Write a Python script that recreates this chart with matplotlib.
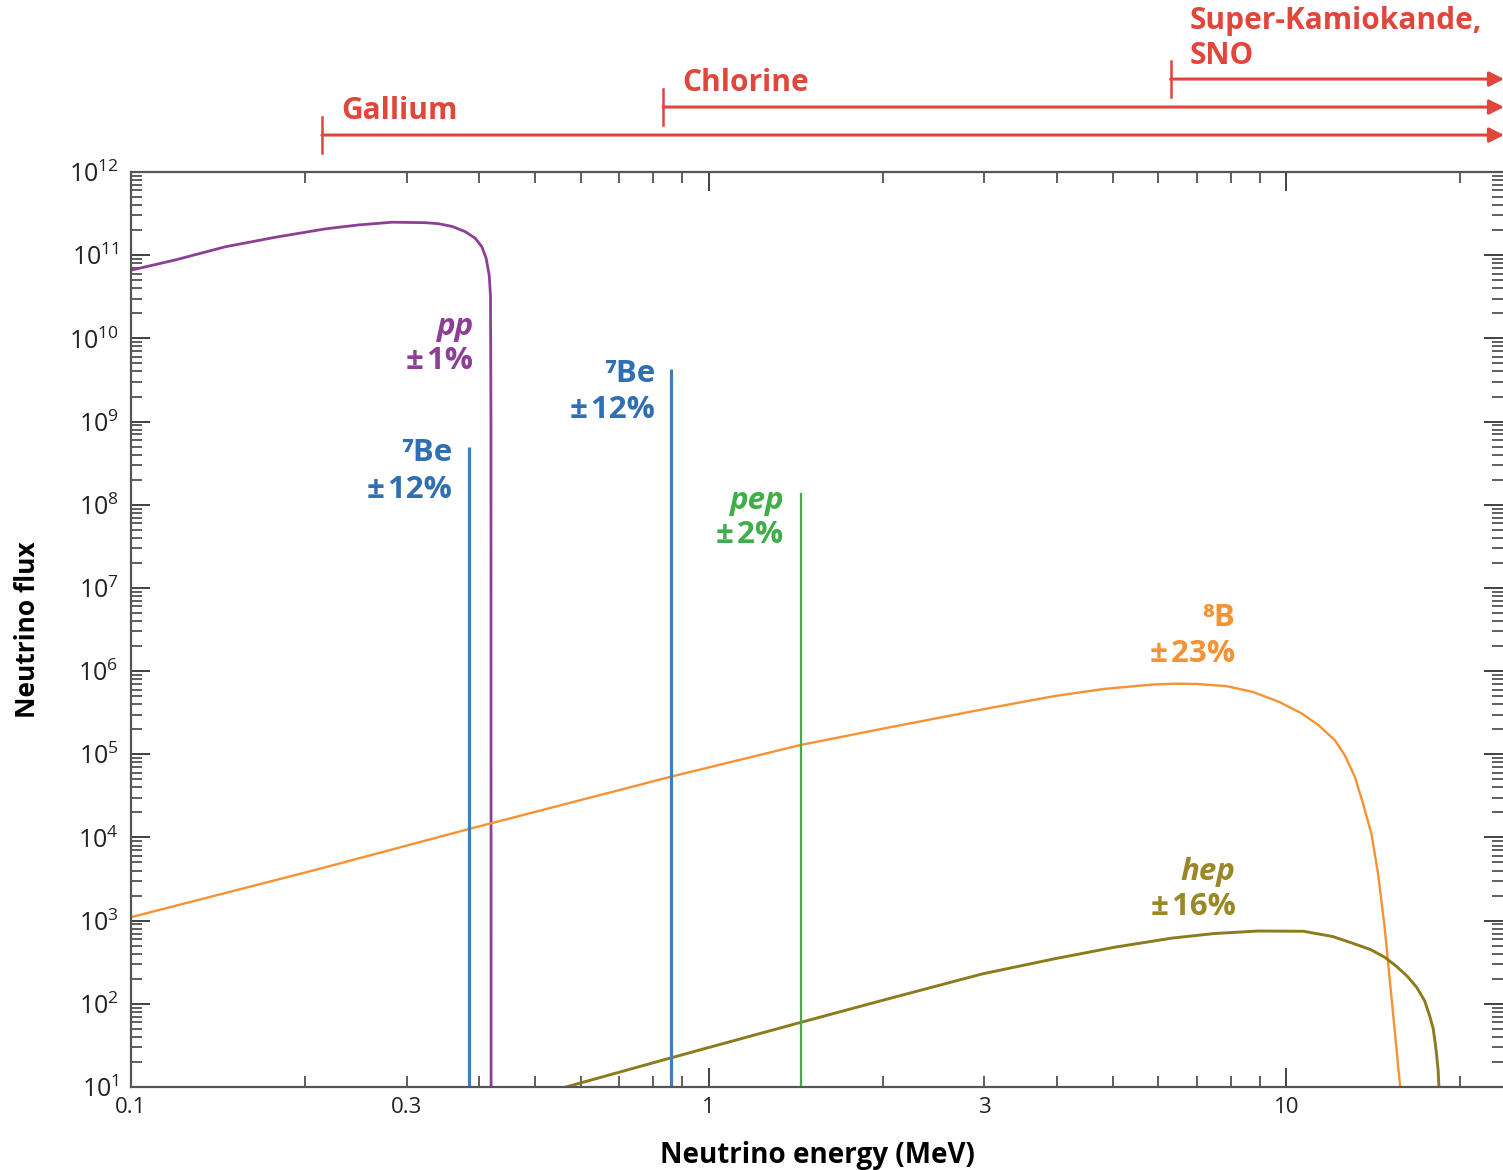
import numpy as np
import matplotlib
matplotlib.use("Agg")
import matplotlib.pyplot as plt
from matplotlib import ticker, transforms

plt.rcParams['font.family'] = ['Open Sans', 'DejaVu Sans']

# pp continuum (MeV, flux)
pp_e = [0.1, 0.1192, 0.1455, 0.1776, 0.2168, 0.2475, 0.2831, 0.3228, 0.3405, 0.3593,
        0.3788, 0.3942, 0.4049, 0.4118, 0.4168, 0.4190, 0.4198, 0.4200]
pp_f = [6.6e10, 8.75e10, 1.26e11, 1.64e11, 2.07e11, 2.31e11, 2.49e11, 2.46e11, 2.39e11, 2.22e11,
        1.92e11, 1.60e11, 1.26e11, 9.2e10, 5.8e10, 3.3e10, 1e9, 10]

# 8B continuum
b8_e = [0.1, 0.2093, 0.384, 0.42, 0.862, 1.44, 2.0, 2.657, 3.0, 3.96, 4.83, 5.88, 6.4, 6.98,
        7.86, 8.73, 9.70, 10.63, 11.36, 12.13, 12.62, 13.14, 13.57, 14.03, 14.41, 14.79,
        15.08, 15.38, 15.73]
b8_f = [1.1e3, 4.1e3, 1.26e4, 1.48e4, 5.4e4, 1.29e5, 2.03e5, 2.97e5, 3.5e5, 5.0e5, 6.1e5,
        6.9e5, 7.05e5, 7.0e5, 6.6e5, 5.64e5, 4.28e5, 3.09e5, 2.24e5, 1.47e5, 9.7e4, 5.3e4,
        2.54e4, 1.1e4, 3.6e3, 8.2e2, 206, 51, 10]

# hep continuum
hep_e = [0.566, 0.862, 1.44, 2.017, 2.976, 3.96, 5.04, 6.34, 7.5, 8.93, 10.7, 12.0,
         13.0, 14.0, 14.79, 15.5, 16.19, 16.8, 17.34, 17.7, 17.95, 18.15, 18.3, 18.36]
hep_f = [10, 22.5, 59.6, 112, 229, 347, 479, 617, 700, 750, 745, 646,
         537, 447, 363, 282, 214, 158, 109, 71, 50, 28, 16, 10]

# lines: energy, peak flux
be7_e = [0.384, 0.862]
be7_f = [4.9e8, 4.3e9]
pep_e = [1.442]
pep_f = [1.38e8]

# detector thresholds (MeV)
det_names = ['Gallium', 'Chlorine', 'Super-Kamiokande,\nSNO']
det_thr = [0.214, 0.834, 6.30]

purple = '#8d3f96'
blue = '#3f7fbf'
green = '#3fae49'
orange = '#f59334'
olive = '#8c7b1c'
red = '#e0463b'

fig = plt.figure(figsize=(15.03, 11.70), dpi=100)
ax = fig.add_axes([131 / 1503, 1 - 1087 / 1170, 1372 / 1503, 915 / 1170])

ax.plot(pp_e, pp_f, color=purple, lw=2.0)
ax.plot(b8_e, b8_f, color=orange, lw=1.7)
ax.plot(hep_e, hep_f, color=olive, lw=2.1)
ax.vlines(be7_e, 10, be7_f, color=blue, lw=2.3)
ax.vlines(pep_e, 10, pep_f, color=green, lw=1.6)

ax.set_xscale('log')
ax.set_yscale('log')
ax.set_xlim(0.1, 23.7)
ax.set_ylim(10, 1e12)

# ticks
ax.xaxis.set_major_locator(ticker.FixedLocator([0.1, 1, 10]))
ax.xaxis.set_minor_locator(ticker.LogLocator(base=10, subs=np.arange(2, 10), numticks=20))
ax.xaxis.set_major_formatter(ticker.FixedFormatter(['0.1', '1', '10']))
ax.xaxis.set_minor_formatter(ticker.FuncFormatter(
    lambda v, p: {0.3: '0.3', 3.0: '3'}.get(round(v, 3), '')))
ax.yaxis.set_major_locator(ticker.LogLocator(base=10, numticks=20))
ax.yaxis.set_minor_locator(ticker.LogLocator(base=10, subs=np.arange(2, 10), numticks=200))
ax.yaxis.set_minor_formatter(ticker.NullFormatter())

ax.tick_params(which='both', direction='in', top=True, right=True, color='#333333')
ax.tick_params(which='major', length=14, width=1.3)
ax.tick_params(which='minor', length=8, width=1.1)
ax.tick_params(axis='x', which='both', labelsize=16, pad=7, labelcolor='#222222')
ax.tick_params(axis='y', which='major', labelsize=18, pad=9, labelcolor='#222222')
for s in ax.spines.values():
    s.set_color('#555555')
    s.set_linewidth(1.6)
ax.spines['right'].set_visible(False)

ax.set_xlabel('Neutrino energy (MeV)', fontsize=20, fontweight='bold', labelpad=17)
ax.set_ylabel('Neutrino flux', fontsize=19, fontweight='bold', labelpad=20)

# source labels
tk = dict(fontsize=22.5, fontweight='bold', ha='right', va='center')
pm = '±\u200a'
ax.text(0.391, 10 ** 10.14, 'pp', color=purple, style='italic', **tk)
ax.text(0.391, 10 ** 9.73, pm + '1%', color=purple, **tk)
ax.text(0.3596, 10 ** 8.62, '⁷Be', color='#2f6fb2', **tk)
ax.text(0.3596, 10 ** 8.18, pm + '12%', color='#2f6fb2', **tk)
ax.text(0.808, 10 ** 9.57, '⁷Be', color='#2f6fb2', **tk)
ax.text(0.808, 10 ** 9.14, pm + '12%', color='#2f6fb2', **tk)
ax.text(1.346, 10 ** 8.05, 'pep', color=green, style='italic', **tk)
ax.text(1.346, 10 ** 7.64, pm + '2%', color=green, **tk)
ax.text(8.16, 10 ** 6.64, '⁸B', color=orange, **tk)
ax.text(8.16, 10 ** 6.21, pm + '23%', color=orange, **tk)
ax.text(8.16, 10 ** 3.59, 'hep', color='#9a8726', style='italic', **tk)
ax.text(8.16, 10 ** 3.16, pm + '16%', color='#9a8726', **tk)

# detector threshold arrows above the plot
trans = transforms.blended_transform_factory(ax.transData, ax.transAxes)
arrow_y = [1.0404, 1.0710, 1.1016]
label_y = [1.0667, 1.0973, 1.146]
for name, thr, yy, ly in zip(det_names, det_thr, arrow_y, label_y):
    ax.annotate('', xy=(23.8, yy), xytext=(thr, yy), xycoords=trans, textcoords=trans,
                arrowprops=dict(arrowstyle='-|>', color=red, lw=2.2, mutation_scale=22,
                                shrinkA=0, shrinkB=0), annotation_clip=False)
    ax.plot([thr, thr], [yy - 0.02, yy + 0.02], color=red, lw=1.8,
            transform=trans, clip_on=False)
    ax.text(thr * 1.08, ly, name, color=red, fontsize=21.5, fontweight='bold',
            ha='left', va='center', transform=trans, linespacing=1.25)

fig.savefig('out.png', dpi=100)
